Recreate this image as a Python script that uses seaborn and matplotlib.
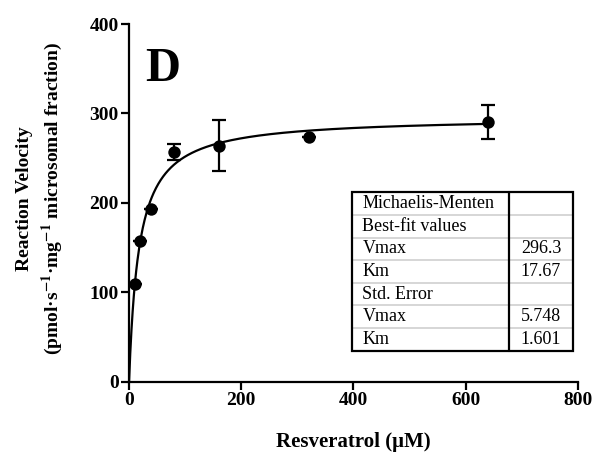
import numpy as np
import pandas as pd
import matplotlib
matplotlib.use("Agg")
import matplotlib.pyplot as plt
import seaborn as sns
from matplotlib.patches import Rectangle

# ---- data ----
conc = [10, 20, 40, 80, 160, 320, 640]
velocity = [109, 158, 193, 257, 264, 274, 291]
sem = [0, 0, 0, 9, 28.5, 0, 19]
vmax = 296.3
km = 17.67
table_labels = ["Michaelis-Menten", "Best-fit values", "Vmax", "Km",
                "Std. Error", "Vmax", "Km"]
table_values = ["", "", "296.3", "17.67", "", "5.748", "1.601"]
x_ticks = [0, 200, 400, 600, 800]
y_ticks = [0, 100, 200, 300, 400]

sns.set_theme(style="ticks")
plt.rcParams['font.family'] = ['Liberation Serif', 'DejaVu Serif']
plt.rcParams['mathtext.fontset'] = 'stix'
plt.rcParams['text.color'] = 'black'
plt.rcParams['axes.labelcolor'] = 'black'

fig = plt.figure(figsize=(5.92, 4.53), dpi=100)
ax = fig.add_axes([0.218, 0.157, 0.758, 0.790])

df = pd.DataFrame({"x": conc, "y": velocity})
xf = np.linspace(0, max(conc), 600)
fit = pd.DataFrame({"x": xf, "y": vmax * xf / (km + xf)})

sns.lineplot(data=fit, x="x", y="y", ax=ax, color="black", lw=1.6, zorder=2)
ax.errorbar(conc, velocity, yerr=sem, fmt="none", ecolor="black",
            elinewidth=1.6, capsize=5, capthick=1.6, zorder=3)
sns.scatterplot(data=df, x="x", y="y", ax=ax, color="black", s=80,
                edgecolor="black", linewidth=0, zorder=4)

ax.set_xlim(0, 800)
ax.set_ylim(0, 400)
ax.set_xticks(x_ticks)
ax.set_yticks(y_ticks)
for s in ["top", "right"]:
    ax.spines[s].set_visible(False)
for s in ["left", "bottom"]:
    ax.spines[s].set_linewidth(1.6)
    ax.spines[s].set_color("black")
ax.tick_params(axis="both", direction="out", length=6, width=1.6,
               labelsize=14, colors="black", pad=1.5)
for lab in ax.get_xticklabels() + ax.get_yticklabels():
    lab.set_fontweight("bold")

ax.set_xlabel("Resveratrol (\u03bcM)", fontsize=15, fontweight="bold", color="black")
ax.xaxis.set_label_coords(0.5, -0.14)
ax.set_ylabel("Reaction Velocity\n(pmol\u00b7s$^{\\mathbf{-1}}$\u00b7mg$^{\\mathbf{-1}}$ microsomal fraction)",
              fontsize=14, fontweight="bold", linespacing=1.35, color="black")
ax.yaxis.set_label_coords(-0.143, 0.513)

ax.text(0.036, 0.841, "D", transform=ax.transAxes, fontsize=35,
        fontweight="bold", ha="left", va="baseline", color="black")

# ---- table ----
left, right, bottom, top = 0.496, 0.990, 0.087, 0.530
div = 0.846
nrows = len(table_labels)
rh = (top - bottom) / nrows
ax.add_patch(Rectangle((left, bottom), right - left, top - bottom,
                       transform=ax.transAxes, fill=True, facecolor="white",
                       edgecolor="none", zorder=4.5))
for i in range(1, nrows):
    yy = top - i * rh
    ax.plot([left, right], [yy, yy], transform=ax.transAxes,
            color="#d0d0d0", lw=1.2, zorder=5, clip_on=False)
ax.add_patch(Rectangle((left, bottom), right - left, top - bottom,
                       transform=ax.transAxes, fill=False,
                       edgecolor="black", lw=1.6, zorder=6, clip_on=False))
ax.plot([div, div], [bottom, top], transform=ax.transAxes,
        color="black", lw=1.6, zorder=6, clip_on=False)
for i, (lab, val) in enumerate(zip(table_labels, table_values)):
    yc = top - (i + 0.5) * rh
    ax.text(left + 0.024, yc, lab, transform=ax.transAxes, fontsize=13,
            ha="left", va="center", zorder=7, color="black")
    if val:
        ax.text((div + right) / 2, yc, val, transform=ax.transAxes,
                fontsize=13, ha="center", va="center", zorder=7, color="black")

fig.savefig("out.png", dpi=100)
